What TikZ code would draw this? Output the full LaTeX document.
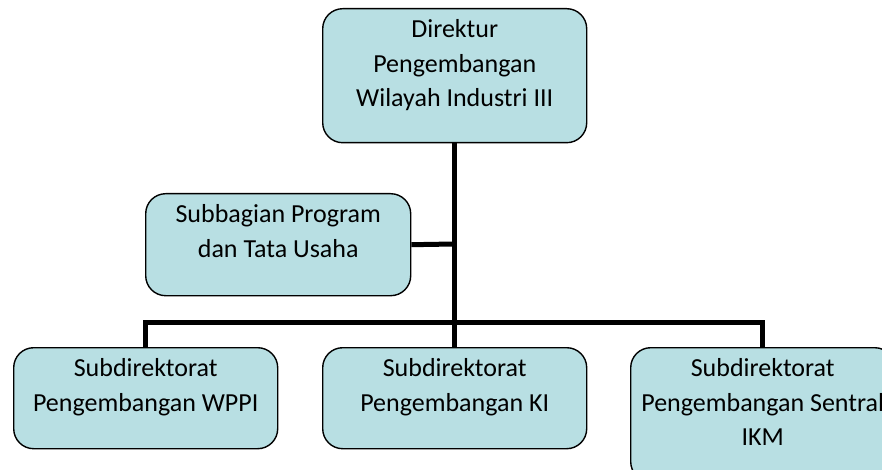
\documentclass[tikz,border=0pt]{standalone}
\usepackage{fontspec}
\setmainfont{Carlito}
\definecolor{boxfill}{HTML}{B8DFE3}
\newcommand{\toptext}[3]{\parbox[c][#1][t]{#2}{\centering\vspace*{11pt}#3\par}}
\begin{document}
\begin{tikzpicture}[x=1pt,y=-1pt,
  orgbox/.style={draw=black, line width=1.4pt, fill=boxfill, rounded corners=20pt,
    inner sep=0pt, anchor=north west, font=\fontsize{26}{34.5}\selectfont},
  link/.style={line width=5pt, draw=black}]
\useasboundingbox (0,0) rectangle (882,470);
\clip (0,0) rectangle (882,470);
\node[orgbox] (dir) at (322,8) {\toptext{134pt}{264pt}{Direktur\\Pengembangan\\Wilayah Industri III}};
\node[orgbox] (sub) at (145,193) {\toptext{102pt}{265pt}{Subbagian Program\\dan Tata Usaha}};
\node[orgbox] (wppi) at (13,347) {\toptext{101pt}{264pt}{Subdirektorat\\Pengembangan WPPI}};
\node[orgbox] (ki) at (322,347) {\toptext{101pt}{264pt}{Subdirektorat\\Pengembangan KI}};
\node[orgbox] (ikm) at (630,347) {\toptext{134pt}{264pt}{Subdirektorat\\Pengembangan Sentral\\IKM}};
\coordinate (bus) at (454,322);
\coordinate (mid) at (454,244);
\draw[link] (dir.south) -- (ki.north);
\draw[link] (sub.east) -- (mid);
\draw[link] (wppi.north) |- (bus) -| (ikm.north);
\end{tikzpicture}
\end{document}
